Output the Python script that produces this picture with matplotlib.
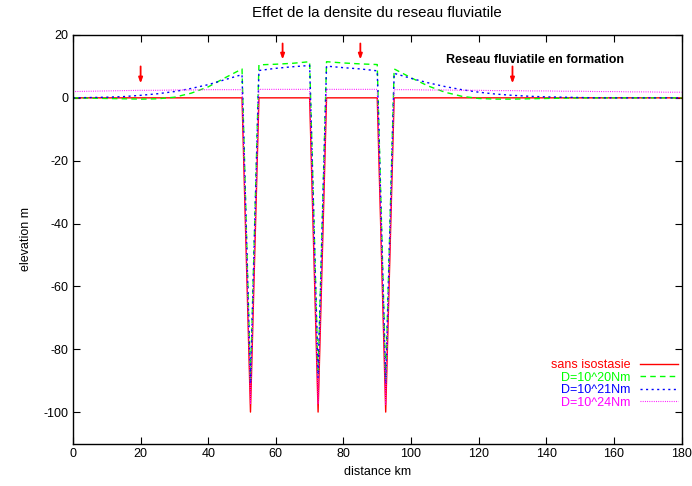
import matplotlib
matplotlib.use("Agg")
import matplotlib.pyplot as plt

plt.rcParams['font.family'] = ['Liberation Sans', 'DejaVu Sans']
plt.rcParams['font.size'] = 9
plt.rcParams['axes.unicode_minus'] = False

# distance (km)
x = [0, 5, 10, 15, 20, 25, 30, 35, 40, 45, 50,
     52.5,
     55, 60, 65, 70,
     72.5,
     75, 80, 85, 90,
     92.5,
     95, 100, 105, 110, 115, 120, 125, 130, 135, 140, 145, 150, 155, 160, 165, 170, 175, 180]

sans_iso = [0] * 11 + [-100] + [0] * 4 + [-100] + [0] * 4 + [-100] + [0] * 18

d20 = [0.0, -0.1, -0.2, -0.3, -0.4, -0.3, 0.2, 1.5, 3.5, 6.4, 9.2,
       -90,
       10.5, 10.7, 11.0, 11.5,
       -88,
       11.5, 11.1, 10.8, 10.6,
       -90,
       9.2, 6.4, 3.8, 1.8, 0.5, -0.2, -0.4, -0.4, -0.3, -0.2, -0.1, 0.0, 0.0, 0.0, 0.0, 0.0, 0.0, 0.0]

d21 = [0.0, 0.1, 0.2, 0.4, 0.8, 1.3, 2.0, 3.0, 4.2, 5.8, 7.4,
       -91,
       8.7, 9.4, 9.9, 10.3,
       -89,
       10.1, 9.6, 9.2, 8.6,
       -91,
       7.8, 6.2, 4.8, 3.6, 2.6, 1.8, 1.2, 0.8, 0.5, 0.3, 0.2, 0.1, 0.0, 0.0, 0.0, 0.0, 0.0, 0.0]

d24 = [2.0, 2.1, 2.2, 2.3, 2.4, 2.4, 2.5, 2.5, 2.6, 2.6, 2.6,
       -97.5,
       2.7, 2.7, 2.7, 2.7,
       -97.5,
       2.7, 2.7, 2.7, 2.7,
       -97.5,
       2.6, 2.6, 2.5, 2.5, 2.4, 2.4, 2.3, 2.3, 2.2, 2.2, 2.1, 2.1, 2.0, 2.0, 1.9, 1.9, 1.8, 1.8]

# red arrows: position, tail, head
arrow_x = [20, 62, 85, 130]
arrow_top = [10, 17.3, 17.3, 10]
arrow_tip = [4.6, 12.2, 12.2, 4.6]

fig = plt.figure(figsize=(6.92, 4.86), dpi=100)
ax = fig.add_axes([73 / 692, 1 - 443.5 / 486, 608.5 / 692, 408.5 / 486])

ax.plot(x, sans_iso, color='#ff0000', lw=1.0, label='sans isostasie')
ax.plot(x, d20, color='#00ff00', lw=1.0, dashes=(4, 3), label='D=10^20Nm')
ax.plot(x, d21, color='#0000ff', lw=1.0, dashes=(1.5, 2.5), label='D=10^21Nm')
ax.plot(x, d24, color='#ff00ff', lw=0.8, dashes=(0.8, 1.2), label='D=10^24Nm')

for xa, yt, yh in zip(arrow_x, arrow_top, arrow_tip):
    ax.annotate('', xy=(xa, yh), xytext=(xa, yt),
                arrowprops=dict(arrowstyle='-|>,head_length=0.35,head_width=0.13',
                                color='#ff0000', lw=1.3, shrinkA=0, shrinkB=0))

ax.text(110.3, 12, 'Reseau fluviatile en formation', fontweight='bold',
        ha='left', va='center')

ax.set_xlim(0, 180)
ax.set_ylim(-110, 20)
ax.set_xticks(range(0, 181, 20))
ax.set_yticks(range(-100, 21, 20))
ax.tick_params(direction='in', length=5, top=True, right=True, width=0.8)
for s in ax.spines.values():
    s.set_linewidth(1.0)

ax.set_title('Effet de la densite du reseau fluviatile', pad=13)
ax.set_xlabel('distance km', labelpad=4)
ax.set_ylabel('elevation m', labelpad=8)

leg = ax.legend(loc='lower right', bbox_to_anchor=(0.994, 0.085), frameon=False,
                markerfirst=False, labelcolor='linecolor', handlelength=3.0,
                handletextpad=0.8, labelspacing=0.05, borderpad=0, borderaxespad=0)
for t in leg.get_texts():
    t.set_ha('right')

fig.savefig('out.png', dpi=100)
